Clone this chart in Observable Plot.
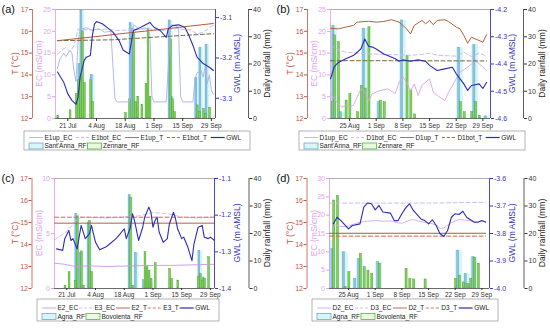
<!DOCTYPE html>
<html><head><meta charset="utf-8">
<script src="https://cdn.jsdelivr.net/npm/d3@7"></script>
<script src="https://cdn.jsdelivr.net/npm/@observablehq/plot@0.6"></script>
<style>
body{margin:0;background:#fff;font-family:"Liberation Sans",Arial,sans-serif;}
#fig{position:relative;width:550px;height:332px;overflow:hidden;background:#fff;}
.panel{position:absolute;width:275px;height:166px;}
.layer{position:absolute;left:0;top:0;}
</style></head><body><div id="fig"></div>
<script>
// ---------------- DATA ----------------
const YEAR = 2019;
// Panel (a)
const aDomain = ["07-15", "10-01"];
const aTicks = ["07-21", "08-04", "08-18", "09-01", "09-15", "09-29"];
const aGWL = [["07-16",-3.235],["07-19",-3.26],["07-21",-3.289],["07-23",-3.305],["07-25",-3.315],["07-26",-3.297],["07-27",-3.247],["07-29",-3.206],["07-30",-3.198],["08-01",-3.194],["08-02",-3.144],["08-03",-3.116],["08-04",-3.11],["08-07",-3.116],["08-10",-3.128],["08-12",-3.136],["08-15",-3.157],["08-17",-3.181],["08-20",-3.19],["08-21",-3.161],["08-22",-3.132],["08-24",-3.128],["08-27",-3.12],["08-30",-3.112],["09-01",-3.124],["09-04",-3.132],["09-07",-3.149],["09-08",-3.128],["09-10",-3.12],["09-13",-3.118],["09-16",-3.124],["09-18",-3.144],["09-20",-3.169],["09-22",-3.198],["09-25",-3.214],["09-28",-3.223],["09-30",-3.231]];
const aE1upT = [["07-16",15.57],["08-01",15.73],["08-15",15.88],["09-01",16.05],["09-15",16.2],["09-30",16.36]];
const aE1botT = [["07-16",15.57],["08-12",15.61],["09-01",15.73],["09-15",15.81],["09-30",15.89]];
const aE1upEC = [["07-16",11.5],["07-17",13.5],["07-19",15.0],["07-20",14.2],["07-22",15.6],["07-23",15.0],["07-24",11.0],["07-25",8.5],["07-26",17.5],["07-27",20.5],["07-30",20.8],["08-02",20.2],["08-05",20.6],["08-08",19.8],["08-11",20.0],["08-12",12.0],["08-13",4.5],["08-14",3.8],["08-20",3.8],["08-21",15.0],["08-22",21.5],["08-25",20.5],["08-28",20.8],["08-30",19.5],["08-31",5.0],["09-01",3.8],["09-07",3.8],["09-08",12.0],["09-09",21.5],["09-12",21.2],["09-13",20.5],["09-14",5.0],["09-15",3.8],["09-20",3.8],["09-21",9.0],["09-22",10.5],["09-24",11.0],["09-25",9.5],["09-26",12.0],["09-27",8.0],["09-28",10.0],["09-29",6.5],["09-30",5.5]];
const aE1botEC = [["07-16",14.8],["07-18",15.6],["07-20",16.3],["07-22",15.4],["07-24",16.6],["07-25",18.5],["07-26",20.5],["08-01",20.3],["08-08",20.5],["08-15",20.2],["08-22",20.4],["08-29",20.6],["09-05",20.2],["09-12",20.6],["09-19",20.3],["09-22",19.4],["09-25",19.8],["09-28",20.8],["09-30",21.4]];
const aSantAnna = [["07-27",20],["07-28",42],["08-02",16],["08-21",35],["08-22",33],["09-09",36],["09-10",8],["09-22",15],["09-24",26],["09-27",27]];
const aZennare = [["07-16",1],["07-22",3],["07-25",9],["07-26",14],["07-27",15],["07-28",32],["07-29",13],["08-01",14],["08-02",6],["08-18",2],["08-20",7],["08-22",31],["08-23",6],["08-24",8],["08-26",5],["08-28",12.7],["08-29",33],["08-30",8],["09-09",29],["09-10",7],["09-11",2.3],["09-22",4.8],["09-23",2.3],["09-25",3.5],["09-26",1.7],["09-28",4]];

// Panel (b)
const bDomain = ["08-20", "10-01"];
const bTicks = ["08-25", "09-01", "09-08", "09-15", "09-22", "09-29"];
const bGWL = [["08-20",-4.454],["08-21",-4.41],["08-22",-4.395],["08-24",-4.381],["08-26",-4.369],["08-27",-4.357],["08-28",-4.344],["08-29",-4.308],["08-30",-4.335],["08-31",-4.338],["09-01",-4.345],["09-03",-4.363],["09-04",-4.369],["09-06",-4.381],["09-07",-4.39],["09-08",-4.385],["09-10",-4.39],["09-12",-4.385],["09-14",-4.39],["09-15",-4.405],["09-17",-4.424],["09-19",-4.418],["09-21",-4.412],["09-22",-4.436],["09-24",-4.473],["09-25",-4.497],["09-26",-4.479],["09-27",-4.476],["09-28",-4.473],["09-29",-4.49],["09-30",-4.467]];
const bD1upT = [["08-20",16.14],["08-22",16.11],["08-24",16.19],["08-26",16.27],["08-27",16.42],["08-30",16.46],["09-01",16.42],["09-03",16.45],["09-05",16.53],["09-07",16.42],["09-08",16.27],["09-09",16.11],["09-10",15.88],["09-11",16.27],["09-13",16.5],["09-14",16.34],["09-15",16.5],["09-16",16.3],["09-17",16.5],["09-19",16.53],["09-20",16.45],["09-22",16.19],["09-23",16.11],["09-24",15.81],["09-25",15.45],["09-26",15.73],["09-27",15.65],["09-28",15.58],["09-29",15.5],["09-30",15.85]];
const bD1botT = [["08-20",14.65],["09-05",14.65],["09-30",14.64]];
const bD1upEC = [["08-20",5.7],["08-22",3.4],["08-23",2.6],["08-24",3.0],["08-25",2.7],["08-26",3.0],["08-27",4.9],["08-28",6.8],["08-29",6.0],["08-30",4.1],["08-31",5.7],["09-02",6.4],["09-04",6.8],["09-06",5.7],["09-07",8.3],["09-08",9.5],["09-09",8.3],["09-10",6.4],["09-11",7.9],["09-12",5.3],["09-13",7.6],["09-15",9.1],["09-16",6.0],["09-17",5.3],["09-19",4.1],["09-20",6.0],["09-22",9.1],["09-23",10.6],["09-25",11.8],["09-26",12.5],["09-27",13.3],["09-29",11.8],["09-30",11.0]];
const bD1botEC = [["08-20",16.8],["08-22",15.8],["08-24",15.2],["08-27",15.0],["08-30",14.8],["09-03",14.7],["09-07",14.6],["09-10",14.5],["09-13",14.7],["09-15",15.0],["09-17",14.5],["09-20",14.4],["09-22",14.3],["09-24",15.2],["09-26",14.2],["09-28",15.0],["09-30",14.3]];
const bSantAnna = [["08-21",34],["08-23",2.3],["08-29",33],["09-02",6],["09-08",36],["09-23",26],["09-27",27],["09-30",0.8]];
const bZennare = [["08-20",6],["08-21",30.5],["08-22",28],["08-24",6.6],["08-25",9],["08-27",2.3],["08-28",12],["08-29",11],["08-30",33.5],["09-02",6.6],["09-03",6],["09-09",23],["09-10",10.3],["09-11",1.5],["09-23",6],["09-24",2.3],["09-26",2.3],["09-27",6],["09-28",1]];

// Panel (c)
const cDomain = ["07-15", "10-01"];
const cTicks = ["07-21", "08-04", "08-18", "09-01", "09-15", "09-29"];
const cGWL = [["07-16",-1.292],["07-19",-1.296],["07-20",-1.264],["07-22",-1.242],["07-23",-1.269],["07-24",-1.264],["07-26",-1.292],["07-27",-1.26],["07-28",-1.228],["07-30",-1.264],["08-01",-1.251],["08-02",-1.228],["08-04",-1.274],["08-06",-1.294],["08-09",-1.287],["08-11",-1.278],["08-14",-1.264],["08-16",-1.251],["08-18",-1.237],["08-19",-1.264],["08-21",-1.233],["08-22",-1.196],["08-23",-1.215],["08-25",-1.269],["08-27",-1.233],["08-28",-1.205],["08-30",-1.178],["08-31",-1.192],["09-01",-1.233],["09-02",-1.215],["09-03",-1.205],["09-04",-1.246],["09-06",-1.274],["09-08",-1.264],["09-09",-1.224],["09-11",-1.192],["09-12",-1.21],["09-13",-1.237],["09-15",-1.264],["09-16",-1.26],["09-18",-1.287],["09-20",-1.324],["09-21",-1.278],["09-23",-1.233],["09-25",-1.228],["09-26",-1.26],["09-28",-1.264],["09-29",-1.26],["10-01",-1.269]];
const cE2T = [["07-15",14.97],["08-15",14.97],["09-15",14.97],["10-01",14.97]];
const cE3T = [["07-15",15.24],["08-15",15.24],["09-15",15.24],["10-01",15.24]];
const cE2EC = [["07-15",2.3],["07-20",2.2],["07-25",2.0],["08-01",2.05],["08-10",2.0],["08-20",2.05],["09-01",2.1],["09-10",2.1],["09-20",2.15],["10-01",2.2]];
const cE3EC = [["07-15",4.4],["07-17",4.7],["07-19",4.9],["07-21",5.2],["07-23",5.6],["07-25",6.1],["07-28",6.5],["08-10",6.4],["08-25",6.6],["09-01",6.9],["09-08",6.8],["09-15",6.5],["09-22",6.4],["10-01",6.5]];
const cAgna = [["07-26",27],["07-28",13],["08-01",24],["08-21",34],["08-24",13],["08-28",3],["08-31",2],["09-24",13.7],["09-26",4]];
const cBovolenta = [["07-20",1],["07-22",5.9],["07-25",2.8],["07-26",26.2],["07-28",13.5],["07-29",1],["08-01",24.5],["08-02",6],["08-21",33],["08-22",1],["08-28",13.2],["08-29",7.8],["08-30",6.5],["08-31",3.5],["09-02",9.2],["09-09",7.2],["09-10",3.5],["09-13",2.9],["09-23",4.1],["09-24",5.3],["09-25",2.9],["09-26",3.5],["09-28",11.4]];

// Panel (d)
const dDomain = ["08-20", "10-01"];
const dTicks = ["08-25", "09-01", "09-08", "09-15", "09-22", "09-29"];
const dGWL = [["08-21",-3.765],["08-22",-3.741],["08-23",-3.753],["08-25",-3.783],["08-26",-3.771],["08-28",-3.765],["08-29",-3.704],["08-30",-3.689],["08-31",-3.692],["09-01",-3.714],["09-02",-3.698],["09-03",-3.722],["09-05",-3.726],["09-06",-3.753],["09-07",-3.753],["09-08",-3.728],["09-09",-3.707],["09-10",-3.692],["09-11",-3.716],["09-13",-3.747],["09-14",-3.753],["09-15",-3.765],["09-16",-3.75],["09-17",-3.771],["09-18",-3.801],["09-19",-3.811],["09-20",-3.789],["09-21",-3.741],["09-22",-3.728],["09-23",-3.731],["09-24",-3.719],["09-25",-3.741],["09-27",-3.759],["09-28",-3.759],["09-29",-3.753],["09-30",-3.759]];
const dD2T = [["08-20",14.51],["09-05",14.51],["09-20",14.51],["09-30",14.51]];
const dD3T = [["08-20",14.38],["09-05",14.38],["09-20",14.38],["09-30",14.38]];
const dD2EC = [["08-21",17.5],["08-23",16.9],["08-25",17.0],["08-27",17.8],["08-29",18.3],["09-01",18.5],["09-03",18.4],["09-05",18.4],["09-07",17.9],["09-08",17.8],["09-10",18.6],["09-11",18.8],["09-13",18.2],["09-15",18.0],["09-17",17.3],["09-18",16.4],["09-19",16.5],["09-21",18.0],["09-23",18.8],["09-25",18.6],["09-27",18.3],["09-30",18.3]];
const dD3EC = [["08-20",23.3],["09-15",23.3],["09-30",23.5]];
const dAgna = [["08-20",17.5],["08-21",14.4],["08-24",13.2],["08-27",3.5],["08-28",10.8],["09-02",9.6],["09-23",13.8],["09-25",5.3],["09-26",1.5],["09-27",11.4]];
const dBovolenta = [["08-21",32],["08-22",33.7],["08-24",0.5],["08-25",6],["08-28",12.6],["08-29",7.8],["08-30",6.5],["08-31",5.3],["09-02",9],["09-09",7.2],["09-10",3.5],["09-11",3.3],["09-14",3.3],["09-22",3.5],["09-23",4.7],["09-24",2.2],["09-25",1.7],["09-26",3.5],["09-27",11.2],["09-28",9]];

// ---------------- HELPERS ----------------
const FONT = "'Liberation Sans', Arial, Helvetica, sans-serif";
const W = 275, H = 166;
const DAY = 864e5;
const dt = s => { const [m, d] = s.split("-").map(Number); return new Date(Date.UTC(YEAR, m - 1, d)); };
const P = arr => arr.map(([d, v]) => ({date: dt(d), v}));
const off = (d, k) => new Date(+d + k * DAY);
const fmtDate = d3.utcFormat("%-d %b");
const fmtInt = d3.format("d");

const C_T = "#c0573f", C_EC = "#e0a4ec", C_GWL = "#3434c0", C_RAIN = "#333";
const CYAN_ZONE = "#cdf4f6", BLUE_BAR = "#8ec3de", BLUE_STROKE = "#5f9fc6";
const GREEN_BAR = "#82cf58", GREEN_STROKE = "#3d9c2d";
const DASH = "4,2.5";

function layer(div, cfg, xOpt, yOpt, color, marks) {
  const svg = Plot.plot({
    width: W, height: H,
    marginLeft: cfg.L, marginRight: W - cfg.R, marginTop: cfg.T, marginBottom: H - cfg.B,
    x: Object.assign({type: "utc", domain: cfg.domain.map(dt)}, xOpt),
    y: yOpt,
    style: {background: "transparent", overflow: "visible", color, fontFamily: FONT, fontSize: "7px"},
    marks
  });
  svg.setAttribute("class", (svg.getAttribute("class") || "") + " layer");
  svg.style.position = "absolute"; svg.style.left = "0px"; svg.style.top = "0px";
  div.appendChild(svg);
}

function drawPanel(cfg) {
  const fig = document.getElementById("fig");
  const div = document.createElement("div");
  div.className = "panel";
  div.style.left = cfg.ox + "px"; div.style.top = cfg.oy + "px";
  fig.appendChild(div);
  const x0 = dt(cfg.domain[0]), x1 = dt(cfg.domain[1]);
  const bw = cfg.barW; // bar geometry in days
  const r1 = P(cfg.rain1), r2 = P(cfg.rain2);

  // Rain layer (bottom)
  layer(div, cfg, {}, {domain: [0, 40]}, C_RAIN, [
    Plot.rectY(r1, {x1: d => off(d.date, -bw.zone), x2: d => off(d.date, bw.zone), y: "v", fill: CYAN_ZONE, fillOpacity: 0.85, clip: true}),
    Plot.rectY(r1, {x1: d => off(d.date, -bw.w), x2: d => off(d.date, bw.o), y: "v", fill: BLUE_BAR, stroke: BLUE_STROKE, strokeWidth: 0.4, clip: true}),
    Plot.rectY(r2, {x1: d => off(d.date, -bw.o), x2: d => off(d.date, bw.w), y: "v", fill: GREEN_BAR, stroke: GREEN_STROKE, strokeWidth: 0.4, clip: true}),
    Plot.ruleY([40], {stroke: "#9a9a9a", strokeWidth: 0.8}),
    Plot.ruleY([0], {stroke: "#444", strokeWidth: 0.8}),
    Plot.axisX({ticks: cfg.ticks.map(dt), tickFormat: fmtDate, tickSize: cfg.xTick, tickPadding: cfg.xPad, label: null, fontSize: 6.5}),
    Plot.axisY({anchor: "right", ticks: [0, 10, 20, 30, 40], tickFormat: fmtInt, dx: cfg.rainX - cfg.R, tickSize: 3, tickPadding: 1.5, label: null}),
    Plot.ruleX([x1], {dx: cfg.rainX - cfg.R, stroke: C_RAIN, strokeWidth: 0.8})
  ]);

  // EC layer
  layer(div, cfg, {axis: null}, {domain: [0, cfg.ecMax]}, C_EC, [
    Plot.axisY({anchor: "left", ticks: d3.range(0, cfg.ecMax + 0.1, 5), tickFormat: fmtInt, tickSize: 3, tickPadding: 1.5, label: null}),
    Plot.ruleX([x0], {stroke: C_EC, strokeWidth: 0.9}),
    Plot.lineY(P(cfg.ecBot), {x: "date", y: "v", stroke: cfg.ecBotColor, strokeWidth: 0.9, strokeDasharray: DASH}),
    Plot.lineY(P(cfg.ecUp), {x: "date", y: "v", stroke: cfg.ecUpColor, strokeWidth: 0.9})
  ]);

  // T layer
  layer(div, cfg, {axis: null}, {domain: [12, 17]}, C_T, [
    Plot.axisY({anchor: "left", ticks: [12, 13, 14, 15, 16, 17], tickFormat: fmtInt, dx: cfg.tX - cfg.L, tickSize: 3, tickPadding: 1, label: null}),
    Plot.ruleX([x0], {dx: cfg.tX - cfg.L, stroke: C_T, strokeWidth: 0.8}),
    Plot.lineY(P(cfg.tBot), {x: "date", y: "v", stroke: cfg.tBotColor, strokeWidth: 1, strokeDasharray: DASH}),
    Plot.lineY(P(cfg.tUp), {x: "date", y: "v", stroke: cfg.tUpColor, strokeWidth: 1})
  ]);

  // GWL layer (top)
  layer(div, cfg, {axis: null}, {domain: cfg.gwlDomain}, C_GWL, [
    Plot.axisY({anchor: "right", ticks: cfg.gwlTicks, tickFormat: d => d.toFixed(1), tickSize: 3, tickPadding: 1.5, label: null}),
    Plot.ruleX([x1], {stroke: C_GWL, strokeWidth: 0.9}),
    Plot.lineY(P(cfg.gwl), {x: "date", y: "v", stroke: "#2c2cb6", strokeWidth: 1.1})
  ]);

  // Overlay: panel label, axis titles, legend
  const svg = d3.select(div).append("svg").attr("class", "layer").attr("width", W).attr("height", H)
    .style("overflow", "visible").style("font-family", FONT);
  svg.append("text").attr("x", 1.5).attr("y", cfg.T + 4).attr("font-size", 11).attr("fill", "#111").text(cfg.label);
  const mid = (cfg.T + cfg.B) / 2;
  const titles = [["T (°C)", 15, C_T], ["EC (mS/cm)", 39.5, C_EC], ["GWL (m AMSL)", 237.5, C_GWL], ["Daily rainfall (mm)", 267, "#222"]];
  titles.forEach(([t, x, c]) => svg.append("text").attr("transform", `translate(${x},${mid}) rotate(-90)`)
    .attr("text-anchor", "middle").attr("dy", "0.35em").attr("font-size", 8.5).attr("fill", c).text(t));

  const [bx0, by0, bx1, by1] = cfg.legBox;
  svg.append("rect").attr("x", bx0).attr("y", by0).attr("width", bx1 - bx0).attr("height", by1 - by0)
    .attr("fill", "none").attr("stroke", "#808080").attr("stroke-width", 0.6);
  const fs = 6.5;
  const items = cfg.legLines.map(it => {
    const g = svg.append("g");
    g.append("line").attr("x1", 0).attr("x2", 14).attr("stroke", it.color).attr("stroke-width", it.w || 0.9)
      .attr("stroke-dasharray", it.dash ? "3,2" : null);
    const t = g.append("text").attr("x", 15.5).attr("dy", "0.35em").attr("font-size", fs).attr("fill", "#222").text(it.name);
    return {g, w: 15.5 + t.node().getComputedTextLength()};
  });
  const avail = bx1 - bx0 - 14;
  const nat = d3.sum(items, r => r.w);
  const gap = Math.max(0.5, (avail - nat) / (items.length - 1));
  let x = bx0 + 5;
  items.forEach(r => { r.g.attr("transform", `translate(${x},${cfg.legRows[0]})`); x += r.w + gap; });
  x = bx0 + 5;
  cfg.legBoxes.forEach(it => {
    const g = svg.append("g").attr("transform", `translate(${x},${cfg.legRows[1]})`);
    g.append("rect").attr("x", 0).attr("y", -3).attr("width", 14).attr("height", 6)
      .attr("fill", it.fill).attr("stroke", it.stroke).attr("stroke-width", 0.8);
    const t = g.append("text").attr("x", 15.5).attr("dy", "0.35em").attr("font-size", fs).attr("fill", "#222").text(it.name);
    x += 15.5 + t.node().getComputedTextLength() + 1;
  });
}

const topGeom = {T: 9, B: 118, L: 55, R: 215, tX: 32, rainX: 248, xTick: 3, xPad: 2};
const botGeom = {T: 12, B: 122, L: 54, R: 214, tX: 31.5, rainX: 248.5, xTick: 2, xPad: 1.5};
const wideBars = {zone: 1.3, w: 0.8, o: 0.1};
const narrowBars = {zone: 0.9, w: 0.5, o: 0.05};
const boxSA = {fill: "#d6f6f8", stroke: "#6aaccc"};
const boxGR = {fill: "#e9fadf", stroke: "#4fb83a"};

drawPanel(Object.assign({}, topGeom, {
  ox: 0, oy: 0, label: "(a)", domain: aDomain, ticks: aTicks, barW: wideBars,
  rain1: aSantAnna, rain2: aZennare, ecMax: 25, ecUp: aE1upEC, ecBot: aE1botEC,
  ecUpColor: "#a9b1ee", ecBotColor: "#bdb3f0", tUp: aE1upT, tBot: aE1botT,
  tUpColor: "#b45f38", tBotColor: "#76683a", gwl: aGWL, gwlDomain: [-3.35, -3.08], gwlTicks: [-3.1, -3.2, -3.3],
  legBox: [24, 131, 250, 150], legRows: [137.5, 146],
  legLines: [{name: "E1up_EC", color: "#a9b1ee"}, {name: "E1bot_EC", color: "#bdb3f0", dash: true},
    {name: "E1up_T", color: "#d0503c"}, {name: "E1bot_T", color: "#76683a", dash: true}, {name: "GWL", color: "#2c2cb6", w: 1.2}],
  legBoxes: [Object.assign({name: "Sant'Anna_RF"}, boxSA), Object.assign({name: "Zennare_RF"}, boxGR)]
}));

drawPanel(Object.assign({}, topGeom, {
  ox: 275, oy: 0, label: "(b)", domain: bDomain, ticks: bTicks, barW: narrowBars,
  rain1: bSantAnna, rain2: bZennare, ecMax: 25, ecUp: bD1upEC, ecBot: bD1botEC,
  ecUpColor: "#d9a3e8", ecBotColor: "#c7b5f2", tUp: bD1upT, tBot: bD1botT,
  tUpColor: "#b45f38", tBotColor: "#7a6536", gwl: bGWL, gwlDomain: [-4.6, -4.2], gwlTicks: [-4.2, -4.3, -4.4, -4.5, -4.6],
  legBox: [24, 131, 250, 150], legRows: [137.5, 146],
  legLines: [{name: "D1up_EC", color: "#d9a3e8"}, {name: "D1bot_EC", color: "#c7b5f2", dash: true},
    {name: "D1up_T", color: "#c0573f"}, {name: "D1bot_T", color: "#7a6536", dash: true}, {name: "GWL", color: "#2c2cb6", w: 1.2}],
  legBoxes: [Object.assign({name: "Sant'Anna_RF"}, boxSA), Object.assign({name: "Zennare_RF"}, boxGR)]
}));

drawPanel(Object.assign({}, botGeom, {
  ox: 0, oy: 166, label: "(c)", domain: cDomain, ticks: cTicks, barW: wideBars,
  rain1: cAgna, rain2: cBovolenta, ecMax: 10, ecUp: cE2EC, ecBot: cE3EC,
  ecUpColor: "#c895ec", ecBotColor: "#cdb8f4", tUp: cE2T, tBot: cE3T,
  tUpColor: "#bb5a45", tBotColor: "#e35f5f", gwl: cGWL, gwlDomain: [-1.4, -1.1], gwlTicks: [-1.1, -1.2, -1.3, -1.4],
  legBox: [37, 133, 219, 155], legRows: [142, 150.5],
  legLines: [{name: "E2_EC", color: "#c895ec"}, {name: "E3_EC", color: "#cdb8f4", dash: true},
    {name: "E2_T", color: "#bb5a45"}, {name: "E3_T", color: "#e35f5f", dash: true}, {name: "GWL", color: "#2c2cb6", w: 1.2}],
  legBoxes: [Object.assign({name: "Agna_RF"}, boxSA), Object.assign({name: "Bovolenta_RF"}, boxGR)]
}));

drawPanel(Object.assign({}, botGeom, {
  ox: 275, oy: 166, label: "(d)", domain: dDomain, ticks: dTicks, barW: narrowBars,
  rain1: dAgna, rain2: dBovolenta, ecMax: 30, ecUp: dD2EC, ecBot: dD3EC,
  ecUpColor: "#d4a8ee", ecBotColor: "#d0aef0", tUp: dD2T, tBot: dD3T,
  tUpColor: "#8d6a35", tBotColor: "#d4604e", gwl: dGWL, gwlDomain: [-4.0, -3.6], gwlTicks: [-3.6, -3.7, -3.8, -3.9, -4.0],
  legBox: [37, 133, 223, 155], legRows: [142, 150.5],
  legLines: [{name: "D2_EC", color: "#d4a8ee"}, {name: "D3_EC", color: "#d0aef0", dash: true},
    {name: "D2_T", color: "#b45f38"}, {name: "D3_T", color: "#d4604e", dash: true}, {name: "GWL", color: "#2c2cb6", w: 1.2}],
  legBoxes: [Object.assign({name: "Agna_RF"}, boxSA), Object.assign({name: "Bovolenta_RF"}, boxGR)]
}));
</script></body></html>
